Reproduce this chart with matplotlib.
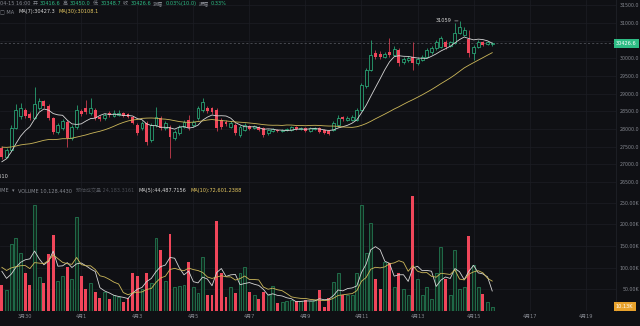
import matplotlib
matplotlib.use('Agg')
import matplotlib.pyplot as plt
import numpy as np
import pandas as pd

plt.rcParams['font.family'] = ['DejaVu Sans', 'Noto Sans CJK SC']

BG = '#0f1014'
GRID = '#1c1e24'
TXT = '#858890'
DIM = '#4a4d54'
GREEN = '#2ebd85'
RED = '#f0465a'
WHITE = '#d6d6d6'
YELLOW = '#e5c860'

# 4h candles, 03-29 04:00 .. 04-15 16:00
open_ = [27462, 27208, 27406, 28028, 28368, 28538, 28425, 28311, 28594, 28793,
         28651, 28311, 27915, 28028, 28198, 27745, 28057, 28510, 28594, 28453,
         28538, 28340, 28311, 28453, 28368, 28396, 28453, 28425, 28340, 28113,
         28028, 28170, 27689, 28113, 28311, 28028, 28057, 27745, 27887, 28057,
         28255, 28113, 28311, 28538, 28594, 28594, 28538, 28255, 28198, 28057,
         28113, 27830, 27972, 28085, 28028, 28057, 28028, 27887, 27944, 27972,
         27944, 27972, 27972, 28057, 28000, 28028, 27944, 28000, 28028, 27972,
         27944, 27972, 28113, 28340, 28255, 28255, 28255, 28538, 29217, 29670,
         30151, 30123, 30038, 30179, 30094, 30236, 29896, 29953, 30038, 29868,
         29953, 30038, 30179, 30292, 30321, 30462, 30349, 30434, 30717, 30660,
         30547, 30151, 30321, 30462, 30406, 30416.6]
close = [27208, 27406, 28028, 28538, 28594, 28368, 28311, 28708, 28793, 28651,
         28311, 27915, 28113, 28226, 27745, 28057, 28538, 28425, 28481, 28594,
         28311, 28283, 28396, 28396, 28453, 28453, 28368, 28340, 28170, 27887,
         28170, 27632, 28113, 28340, 28028, 28170, 27774, 27915, 28057, 28198,
         28028, 28198, 28594, 28764, 28510, 28481, 28028, 28057, 28142, 28170,
         27887, 28057, 28113, 28000, 28085, 27972, 27830, 27972, 28000, 27944,
         27972, 28000, 28057, 28000, 28028, 27944, 28028, 28028, 27915, 27887,
         27859, 28170, 28311, 28283, 28311, 28340, 28538, 29245, 29670, 30094,
         30038, 30038, 30123, 30094, 30264, 29868, 29981, 30009, 29868, 29981,
         30038, 30236, 30292, 30462, 30576, 30321, 30462, 30717, 30887, 30802,
         30151, 30321, 30462, 30377, 30462, 30426.6]
high = [27519, 27462, 28113, 28708, 28736, 28594, 28481, 29189, 28877, 28821,
        28708, 28340, 28170, 28283, 28255, 28113, 28679, 28566, 28821, 28877,
        28594, 28396, 28453, 28510, 28538, 28538, 28481, 28453, 28368, 28170,
        28226, 28226, 28170, 28623, 28368, 28226, 28113, 27972, 28113, 28255,
        28396, 28255, 28651, 28877, 28651, 28623, 28594, 28311, 28255, 28226,
        28170, 28113, 28170, 28113, 28113, 28085, 28057, 28000, 28028, 28000,
        28000, 28028, 28085, 28085, 28057, 28057, 28057, 28057, 28057, 28000,
        27972, 28226, 28396, 28368, 28368, 28396, 28594, 29302, 29727, 30519,
        30236, 30208, 30179, 30576, 30349, 30292, 30038, 30066, 30462, 30038,
        30094, 30292, 30349, 30519, 30632, 30519, 30491, 31000, 31059, 30887,
        30802, 30377, 30519, 30491, 30491, 30450.0]
low = [27151, 27180, 27377, 28000, 28283, 28311, 28255, 28283, 28538, 28594,
       28255, 27859, 27859, 27972, 27491, 27689, 28000, 28368, 28425, 28396,
       28255, 28226, 28255, 28340, 28340, 28368, 28340, 28311, 28142, 27830,
       27972, 27547, 27632, 28057, 27972, 27972, 27180, 27689, 27830, 28028,
       27972, 28057, 28255, 28481, 28453, 28425, 27944, 28000, 28085, 28028,
       27830, 27774, 27944, 27972, 28000, 27944, 27774, 27830, 27915, 27915,
       27915, 27944, 27944, 27972, 27972, 27915, 27915, 27972, 27887, 27859,
       27830, 27944, 28057, 28226, 28226, 28226, 28226, 28510, 29160, 29642,
       29981, 29981, 30009, 30038, 30066, 29783, 29840, 29896, 29670, 29811,
       29925, 30009, 30123, 30236, 30292, 30264, 30321, 30406, 30689, 30632,
       30038, 29953, 30292, 30349, 30377, 30348.7]
# volume in thousands
volume = [59, 48, 154, 168, 133, 89, 59, 244, 78, 64,
          131, 175, 70, 82, 101, 75, 217, 80, 50, 64,
          45, 30, 43, 27, 36, 32, 20, 29, 89, 82,
          52, 89, 64, 168, 140, 70, 177, 55, 57, 59,
          113, 55, 41, 124, 36, 36, 208, 87, 32, 55,
          41, 89, 101, 43, 36, 27, 43, 36, 57, 18,
          20, 22, 25, 22, 22, 25, 22, 25, 48, 10,
          30, 66, 89, 38, 36, 38, 89, 244, 135, 203,
          73, 52, 113, 110, 55, 89, 52, 36, 265, 75,
          38, 55, 27, 89, 147, 75, 38, 142, 52, 55,
          173, 106, 55, 40, 20, 10.128]

# candles left of the visible window, only feed the moving averages
prior_close = [27600, 27700, 27750, 27650, 27800, 27900, 27850, 27750, 27600, 27650,
               28000, 27850, 27700, 27750, 27600, 27650, 27500, 27550, 27400, 27300,
               27350, 27200, 27000, 26800, 26700, 26900, 27100, 27300, 27500]
prior_volume = [120, 95, 140, 110, 85, 130, 105, 90, 75]

date_pos = [5, 17, 29, 41, 53, 65, 77, 89, 101, 113, 125]
date_labels = ['3月30', '4月1', '4月3', '4月5', '4月7', '4月9',
               '4月11', '4月13', '4月15', '4月17', '4月19']

o = np.array(open_)
c = np.array(close)
h = np.array(high)
l = np.array(low)
v = np.array(volume)
n = len(c)
x = np.arange(n)
up = c >= o
col = np.where(up, GREEN, RED)

cs = pd.Series(prior_close + close)
ma7 = cs.rolling(7).mean().values[-n:]
ma30 = cs.rolling(30).mean().values[-n:]
vs = pd.Series(prior_volume + volume)
vma5 = vs.rolling(5).mean().values[-n:]
vma10 = vs.rolling(10).mean().values[-n:]

W, H = 640, 326
fig = plt.figure(figsize=(6.4, 3.26), dpi=100, facecolor=BG)
ax = fig.add_axes([0, 140 / H, 616 / W, 186 / H])
axv = fig.add_axes([0, 15 / H, 616 / W, 125 / H], sharex=ax)

for a in (ax, axv):
    a.set_facecolor(BG)
    for s in a.spines.values():
        s.set_visible(False)
    a.spines['right'].set_visible(True)
    a.spines['right'].set_color(GRID)
    a.grid(True, color=GRID, lw=0.5)
    a.set_axisbelow(True)
    a.tick_params(length=0, colors=TXT, labelsize=3.4)
    a.yaxis.tick_right()

# price panel
ax.vlines(x, l, h, colors=col, lw=0.5, zorder=2)
body_lo = np.minimum(o, c)
body_h = np.maximum(np.abs(c - o), 8)
ax.bar(x[up], body_h[up], bottom=body_lo[up], width=0.62, facecolor=BG,
       edgecolor=GREEN, lw=0.5, zorder=3)
ax.bar(x[~up], body_h[~up], bottom=body_lo[~up], width=0.62, color=RED,
       lw=0, zorder=3)
ax.plot(x, ma7, color=WHITE, lw=0.6, zorder=4)
ax.plot(x, ma30, color='#cdb85a', lw=0.6, zorder=4)
ax.axhline(c[-1], color='#5c5f66', lw=0.5, ls=(0, (3, 3)), zorder=1)

ax.set_xlim(-0.4, 131.5)
ax.set_ylim(26387, 31651)
pt = np.arange(26500, 31501, 500)
# the last-price tag covers the 30500 label
ax.set_yticks(pt, ['' if p == 30500 else f'{p:.1f}' for p in pt], ha='right')
ax.tick_params(axis='y', pad=16.5)
ax.tick_params(axis='x', labelbottom=False)

ax.text(1.0, c[-1], f'{c[-1]:.1f}', transform=ax.get_yaxis_transform(),
        ha='left', va='center', fontsize=3.6, color='white', clip_on=False,
        bbox=dict(boxstyle='square,pad=0.45', fc=GREEN, ec='none'), zorder=6)

imax = int(np.argmax(h))
ax.annotate(f'{h[imax]:.0f}', xy=(imax, h[imax]), xytext=(-6, 0),
            textcoords='offset points', ha='right', va='center', fontsize=3.6,
            color=WHITE, arrowprops=dict(arrowstyle='-', color=WHITE, lw=0.4,
                                         shrinkA=0.5, shrinkB=1))

# volume panel
axv.bar(x[up], v[up], width=0.62, facecolor='#11281d', edgecolor='#268a5c',
        lw=0.5, zorder=3)
axv.bar(x[~up], v[~up], width=0.62, color=RED, lw=0, zorder=3)
axv.plot(x, vma5, color=WHITE, lw=0.6, zorder=4)
axv.plot(x, vma10, color='#cdb85a', lw=0.6, zorder=4)
axv.set_ylim(0, 289)
vt = [50, 100, 150, 200, 250]
axv.set_yticks(vt, [f'{t:.2f}K' for t in vt], ha='right')
axv.tick_params(axis='y', pad=16.5)
axv.set_xticks(date_pos, date_labels)
axv.tick_params(axis='x', pad=2, labelsize=3.6)
axv.text(1.0, v[-1], f'{v[-1]:.2f}K', transform=axv.get_yaxis_transform(),
         ha='left', va='center', fontsize=3.6, color='white', clip_on=False,
         bbox=dict(boxstyle='square,pad=0.45', fc='#e8a22c', ec='none'), zorder=6)

renderer = fig.canvas.get_renderer()


def row(py, pieces, x0=0.0, gap=2.5, size=3.6):
    px = x0
    for s, color in pieces:
        t = fig.text(px / W, 1 - py / H, s, ha='left', va='center',
                     fontsize=size, color=color)
        px = t.get_window_extent(renderer=renderer).x1 + gap


# header rows
row(3.5, [('04-15 16:00', TXT), ('开', TXT), ('30416.6', GREEN), ('高', TXT),
          ('30450.0', GREEN), ('低', TXT), ('30348.7', GREEN), ('收', TXT),
          ('30426.6', GREEN), ('涨幅', TXT), ('0.03%(10.0)', GREEN),
          ('振幅', TXT), ('0.33%', GREEN)], gap=2.2)
row(12, [('□ MA', TXT), ('MA(7):30427.3', WHITE), ('MA(30):30108.1', YELLOW)], gap=4)

fig.text(10 / W, 1 - 191 / H, 'VOLUME', ha='right', va='center', fontsize=3.6, color=TXT)
row(191, [('▾', TXT), ('VOLUME 10,128.4430', TXT), ('预估成交量 24,183.3161', DIM),
          ('MA(5):44,487.7156', WHITE), ('MA(10):72,601.2388', YELLOW)], x0=12, gap=4)

fig.text(9 / W, 1 - 177 / H, '26510', ha='right', va='center', fontsize=3.6, color=WHITE)

fig.savefig('out.png', dpi=100, facecolor=BG)
